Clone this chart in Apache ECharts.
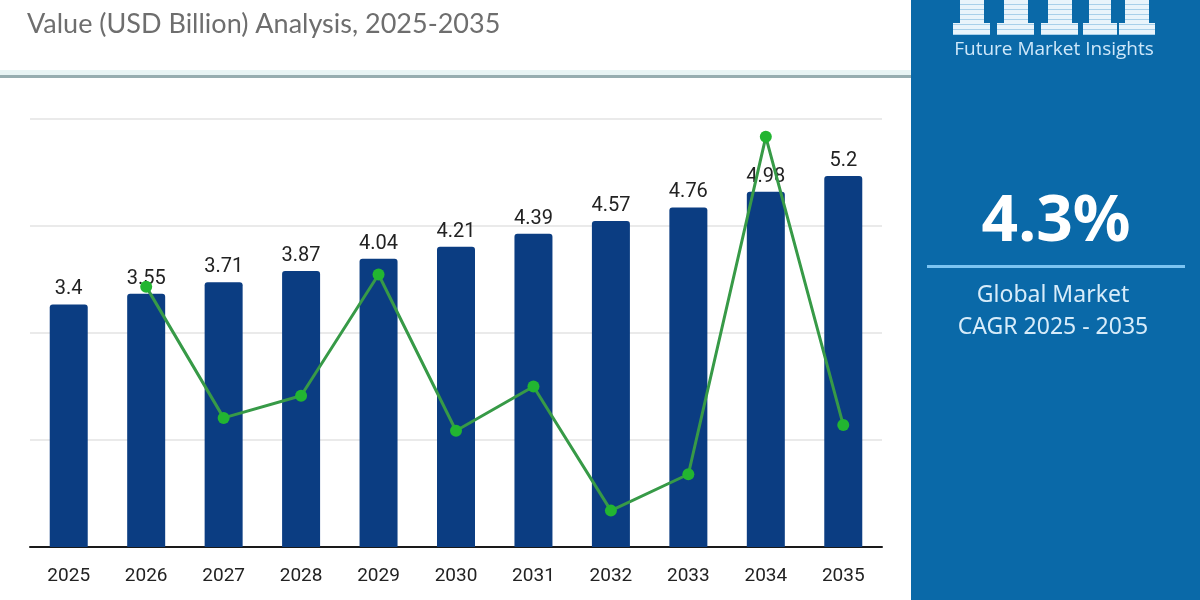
<!DOCTYPE html>
<html>
<head>
<meta charset="utf-8">
<title>Market Value Analysis 2025-2035</title>
<script src="https://cdn.jsdelivr.net/npm/echarts@6/dist/echarts.min.js"></script>
<style>
  html, body { margin: 0; padding: 0; background: #ffffff; }
  #chart { width: 1200px; height: 600px; }
</style>
</head>
<body>
<div id="chart"></div>
<script>
const YEARS = ["2025", "2026", "2027", "2028", "2029", "2030", "2031", "2032", "2033", "2034", "2035"];
// market value, USD billion
const VALUES = [3.4, 3.55, 3.71, 3.87, 4.04, 4.21, 4.39, 4.57, 4.76, 4.98, 5.2];
// green trend line, read off the picture on the same 0-6 scale (no point for 2025)
const TREND = [null, 3.65, 1.81, 2.12, 3.82, 1.63, 2.25, 0.51, 1.02, 5.75, 1.71];

const TITLE = "Value (USD Billion) Analysis, 2025-2035";
const CAGR = "4.3%";
const CAGR_LINES = ["Global Market", "CAGR 2025 - 2035"];
const BRAND = "Future Market Insights";

const BAR_COLOR = "#0b3d82";
const PANEL_COLOR = "#0a69a8";

// logo pillars: [left of base, base width]
const PILLARS = [[953, 37], [997, 37], [1041, 37], [1083, 34], [1119, 36]];

function logoShapes() {
  const out = [];
  for (const [x, w] of PILLARS) {
    const bodyW = Math.round(w * 0.66);
    const bodyX = x + Math.round((w - bodyW) / 2);
    out.push({ type: "rect", shape: { x: bodyX, y: 0, width: bodyW, height: 23 }, style: { fill: "#e9f4fb" } });
    out.push({ type: "rect", shape: { x: x, y: 23, width: w, height: 12 }, style: { fill: "#e9f4fb" } });
    for (let y = 4; y < 35; y += 5) {
      const inBase = y >= 23;
      out.push({
        type: "rect",
        shape: { x: inBase ? x : bodyX, y: y, width: inBase ? w : bodyW, height: 1 },
        style: { fill: "#a8d0ea" },
      });
    }
  }
  return out;
}

const chart = echarts.init(document.getElementById("chart"), null, { renderer: "canvas" });

chart.setOption({
  backgroundColor: "#ffffff",
  animation: false,
  title: {
    text: TITLE,
    left: 22,
    top: 6,
    textStyle: { color: "#6e6e6e", fontSize: 27, fontWeight: "normal", fontFamily: "Lato" },
  },
  grid: { left: 30, right: 318, top: 119, bottom: 53 },
  xAxis: {
    type: "category",
    data: YEARS,
    axisLine: { lineStyle: { color: "#1a1a1a", width: 2 } },
    axisTick: { show: false },
    axisLabel: { color: "#222222", fontSize: 19, fontFamily: "Roboto", margin: 20 },
  },
  yAxis: [
    {
      type: "value",
      min: 0,
      max: 6,
      interval: 1.5,
      axisLabel: { show: false },
      axisLine: { show: false },
      axisTick: { show: false },
      splitLine: { lineStyle: { color: "#e3e3e3", width: 1.5 } },
    },
    {
      type: "value",
      min: 0,
      max: 6,
      show: false,
      splitLine: { show: false },
    },
  ],
  series: [
    {
      type: "bar",
      data: VALUES,
      barWidth: 38,
      itemStyle: { color: BAR_COLOR, borderRadius: [3, 3, 0, 0] },
      label: {
        show: true,
        position: "top",
        distance: 5,
        color: "#222222",
        fontSize: 20,
        fontFamily: "Roboto",
      },
      z: 2,
    },
    {
      type: "line",
      yAxisIndex: 1,
      data: TREND,
      connectNulls: false,
      symbol: "circle",
      symbolSize: 12,
      itemStyle: { color: "#22b531" },
      lineStyle: { color: "#379a47", width: 3 },
      z: 3,
    },
  ],
  graphic: [
    {
      type: "rect",
      shape: { x: 0, y: 70, width: 911, height: 5 },
      style: { fill: "#e8f4f4" },
    },
    {
      type: "rect",
      shape: { x: 0, y: 75, width: 911, height: 3 },
      style: { fill: "#97adb0" },
    },
    {
      type: "rect",
      shape: { x: 911, y: 0, width: 289, height: 600 },
      style: { fill: PANEL_COLOR },
    },
    ...logoShapes(),
    {
      type: "text",
      x: 1054,
      y: 50,
      style: {
        text: BRAND,
        fill: "#cfe8fa",
        fontSize: 19,
        fontFamily: "Open Sans",
        align: "center",
        verticalAlign: "middle",
      },
    },
    {
      type: "text",
      x: 1056,
      y: 223,
      style: {
        text: CAGR,
        fill: "#ffffff",
        fontSize: 64,
        fontWeight: "bold",
        fontFamily: "Noto Sans",
        align: "center",
        verticalAlign: "middle",
      },
    },
    {
      type: "rect",
      shape: { x: 927, y: 265, width: 258, height: 3 },
      style: { fill: "#7cc4f2" },
    },
    {
      type: "text",
      x: 1053,
      y: 295,
      style: {
        text: CAGR_LINES[0],
        fill: "#d7ecfa",
        fontSize: 23,
        fontFamily: "Noto Sans",
        align: "center",
        verticalAlign: "middle",
      },
    },
    {
      type: "text",
      x: 1053,
      y: 327,
      style: {
        text: CAGR_LINES[1],
        fill: "#d7ecfa",
        fontSize: 23,
        fontFamily: "Noto Sans",
        align: "center",
        verticalAlign: "middle",
      },
    },
  ],
});
</script>
</body>
</html>
